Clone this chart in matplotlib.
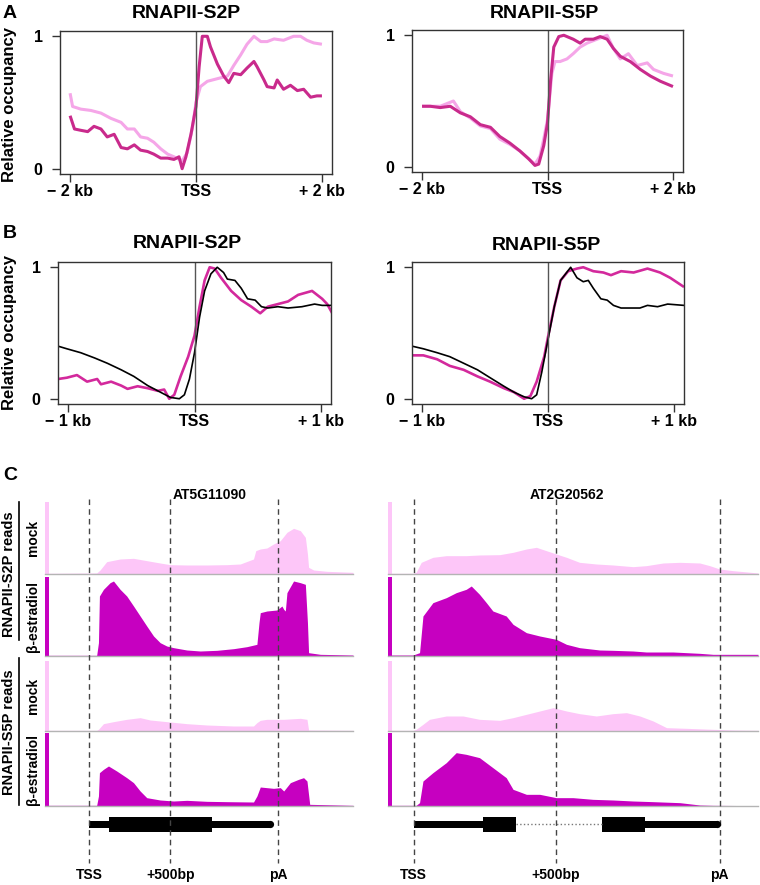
import numpy as np
import matplotlib
matplotlib.use("Agg")
import matplotlib.pyplot as plt
from matplotlib.patches import Rectangle

plt.rcParams['font.family'] = ['Liberation Sans', 'DejaVu Sans']

W, H = 760, 885

# ---------------- panel A: RNAPII-S2P (kb from TSS, relative occupancy) ----------------
a_s2p_mock_x = [-2.0, -1.96, -1.83, -1.67, -1.51, -1.35, -1.19, -1.09, -0.98, -0.88, -0.77, -0.67,
                -0.56, -0.45, -0.35, -0.22, -0.14, -0.06, 0.0, 0.07, 0.18, 0.34, 0.50, 0.60, 0.71,
                0.81, 0.92, 1.03, 1.13, 1.24, 1.39, 1.55, 1.66, 1.76, 1.87, 2.0]
a_s2p_mock_y = [0.57, 0.47, 0.45, 0.44, 0.42, 0.38, 0.35, 0.30, 0.30, 0.24, 0.23, 0.20,
                0.15, 0.11, 0.09, 0.06, 0.12, 0.30, 0.50, 0.62, 0.66, 0.68, 0.70, 0.78, 0.86,
                0.94, 1.0, 0.96, 0.96, 0.98, 0.97, 1.0, 1.0, 0.97, 0.95, 0.94]
a_s2p_estr_x = [-2.0, -1.93, -1.83, -1.72, -1.62, -1.51, -1.41, -1.30, -1.19, -1.09, -0.98, -0.88,
                -0.77, -0.67, -0.56, -0.45, -0.35, -0.27, -0.22, -0.16, -0.08, 0.0, 0.05, 0.10,
                0.18, 0.23, 0.34, 0.44, 0.52, 0.60, 0.71, 0.81, 0.92, 0.97, 1.08, 1.13, 1.24,
                1.29, 1.39, 1.50, 1.61, 1.71, 1.82, 1.92, 2.0]
a_s2p_estr_y = [0.40, 0.30, 0.29, 0.28, 0.32, 0.30, 0.24, 0.26, 0.16, 0.15, 0.18, 0.14,
                0.13, 0.11, 0.08, 0.08, 0.07, 0.09, 0.0, 0.09, 0.26, 0.47, 0.77, 1.0,
                1.0, 0.92, 0.79, 0.70, 0.65, 0.72, 0.71, 0.76, 0.81, 0.77, 0.67, 0.62, 0.61,
                0.67, 0.60, 0.63, 0.59, 0.60, 0.54, 0.55, 0.55]

# ---------------- panel A: RNAPII-S5P ----------------
a_s5p_mock_x = [-2.0, -1.71, -1.50, -1.39, -1.23, -1.07, -0.91, -0.76, -0.60, -0.44, -0.30, -0.20,
                -0.12, -0.06, 0.0, 0.07, 0.12, 0.20, 0.31, 0.41, 0.52, 0.63, 0.79, 0.95, 1.05,
                1.16, 1.29, 1.43, 1.59, 1.69, 1.85, 2.0]
a_s5p_mock_y = [0.46, 0.46, 0.50, 0.42, 0.37, 0.31, 0.29, 0.21, 0.17, 0.12, 0.06, 0.02,
                0.08, 0.21, 0.36, 0.71, 0.80, 0.80, 0.82, 0.86, 0.91, 0.94, 0.97, 1.0, 0.90,
                0.82, 0.86, 0.77, 0.79, 0.74, 0.71, 0.69]
a_s5p_estr_x = [-2.0, -1.87, -1.71, -1.55, -1.39, -1.23, -1.07, -0.91, -0.76, -0.60, -0.44, -0.30,
                -0.20, -0.14, -0.06, 0.0, 0.05, 0.10, 0.18, 0.26, 0.41, 0.52, 0.60, 0.73, 0.84,
                0.95, 1.05, 1.16, 1.32, 1.48, 1.64, 1.80, 2.0]
a_s5p_estr_y = [0.46, 0.46, 0.45, 0.46, 0.41, 0.38, 0.32, 0.30, 0.23, 0.18, 0.12, 0.06,
                0.01, 0.02, 0.16, 0.33, 0.66, 0.91, 0.99, 1.0, 0.97, 0.94, 0.97, 0.97, 0.99,
                0.97, 0.90, 0.84, 0.80, 0.74, 0.69, 0.65, 0.61]

# ---------------- panel B: nucleosome vs beta-estradiol ----------------
b_s2p_nuc_x = [-1.08, -1.01, -0.90, -0.79, -0.69, -0.58, -0.48, -0.37, -0.26, -0.19, -0.12, -0.08,
               -0.04, 0.0, 0.04, 0.08, 0.13, 0.18, 0.23, 0.26, 0.32, 0.37, 0.42, 0.48, 0.53,
               0.58, 0.66, 0.74, 0.85, 0.95, 1.01, 1.09]
b_s2p_nuc_y = [0.40, 0.38, 0.35, 0.31, 0.27, 0.22, 0.17, 0.10, 0.045, 0.01, 0.0, 0.03,
               0.15, 0.35, 0.62, 0.82, 0.95, 1.0, 0.96, 0.91, 0.90, 0.84, 0.76, 0.75, 0.70,
               0.69, 0.70, 0.69, 0.70, 0.72, 0.71, 0.71]
b_s2p_estr_x = [-1.08, -1.01, -0.93, -0.85, -0.77, -0.74, -0.66, -0.58, -0.53, -0.45, -0.37, -0.29,
                -0.24, -0.20, -0.16, -0.11, -0.05, 0.0, 0.04, 0.08, 0.12, 0.16, 0.21, 0.29,
                0.37, 0.45, 0.52, 0.58, 0.66, 0.74, 0.82, 0.93, 1.01, 1.05, 1.09]
b_s2p_estr_y = [0.15, 0.16, 0.18, 0.13, 0.15, 0.11, 0.13, 0.10, 0.075, 0.095, 0.08, 0.06,
                0.07, 0.0, 0.03, 0.17, 0.32, 0.48, 0.70, 0.90, 1.0, 0.99, 0.92, 0.82,
                0.75, 0.70, 0.65, 0.70, 0.72, 0.74, 0.79, 0.82, 0.76, 0.72, 0.65]

b_s5p_nuc_x = [-1.08, -0.99, -0.88, -0.78, -0.67, -0.56, -0.46, -0.35, -0.27, -0.19, -0.13, -0.09,
               -0.05, 0.0, 0.05, 0.10, 0.18, 0.23, 0.28, 0.32, 0.36, 0.42, 0.47, 0.52, 0.58,
               0.66, 0.73, 0.79, 0.87, 0.95, 1.08]
b_s5p_nuc_y = [0.40, 0.38, 0.35, 0.32, 0.27, 0.22, 0.16, 0.095, 0.05, 0.015, 0.0, 0.03,
               0.20, 0.45, 0.70, 0.90, 1.0, 0.92, 0.89, 0.90, 0.84, 0.76, 0.75, 0.71, 0.69,
               0.69, 0.69, 0.71, 0.70, 0.72, 0.71]
b_s5p_estr_x = [-1.08, -0.99, -0.88, -0.78, -0.67, -0.56, -0.46, -0.35, -0.27, -0.19, -0.14, -0.09,
                -0.03, 0.0, 0.05, 0.10, 0.16, 0.23, 0.28, 0.36, 0.44, 0.50, 0.58, 0.68, 0.79,
                0.89, 0.97, 1.08]
b_s5p_estr_y = [0.33, 0.33, 0.30, 0.25, 0.22, 0.17, 0.13, 0.08, 0.05, 0.0, 0.02, 0.13,
                0.32, 0.47, 0.70, 0.90, 0.97, 0.99, 1.0, 0.97, 0.96, 0.94, 0.97, 0.96, 0.99,
                0.96, 0.92, 0.85]

# ---------------- panel C: read coverage (bp from TSS, arbitrary read units) ----------------
g1_name, g1_range, g1_pa = "AT5G11090", (-275, 1632), 1167
g1_s2p_mock_x = [-275, 45, 66, 107, 190, 273, 355, 438, 500, 603, 727, 851, 934, 1016, 1030, 1058,
                 1099, 1140, 1182, 1223, 1264, 1306, 1337, 1350, 1357, 1388, 1471, 1632]
g1_s2p_mock_y = [2, 3, 12, 37, 45, 47, 40, 33, 28, 27, 27, 28, 30, 45, 70, 75,
                 78, 90, 100, 125, 137, 130, 110, 60, 20, 12, 8, 5]
g1_s2p_estr_x = [-275, 45, 56, 62, 87, 128, 149, 190, 231, 273, 314, 355, 397, 438, 479, 521, 603,
                 686, 789, 893, 975, 1037, 1050, 1058, 1099, 1161, 1192, 1203, 1213, 1223, 1264,
                 1306, 1337, 1350, 1357, 1430, 1632]
g1_s2p_estr_y = [2, 2, 40, 180, 200, 220, 225, 200, 180, 150, 120, 90, 60, 40, 30, 25, 18,
                 15, 17, 22, 28, 35, 100, 130, 135, 138, 150, 140, 135, 190, 225,
                 220, 215, 100, 10, 5, 3]
g1_s5p_mock_x = [-275, 45, 56, 87, 149, 231, 314, 376, 479, 603, 727, 893, 1016, 1037, 1058, 1099,
                 1203, 1306, 1347, 1357, 1632]
g1_s5p_mock_y = [2, 2, 5, 22, 28, 35, 40, 33, 28, 22, 18, 15, 15, 25, 32, 35,
                 35, 38, 35, 3, 2]
g1_s5p_estr_x = [-275, 45, 56, 62, 87, 118, 169, 231, 273, 314, 355, 438, 521, 603, 727, 851, 1016,
                 1037, 1058, 1099, 1140, 1182, 1203, 1244, 1295, 1326, 1347, 1364, 1632]
g1_s5p_estr_y = [2, 2, 30, 100, 110, 120, 105, 85, 70, 45, 25, 18, 15, 17, 14, 13, 12,
                 30, 57, 55, 53, 55, 45, 70, 80, 85, 75, 5, 2]
g1_utr = [(0, 1120)]
g1_cds = [(124, 762)]
g1_intron = []

g2_name, g2_range, g2_pa = "AT2G20562", (-90, 1212), 1077
g2_s2p_mock_x = [-90, -2, 9, 27, 68, 115, 185, 232, 303, 350, 397, 432, 467, 502, 538, 584, 643,
                 702, 772, 819, 878, 937, 1007, 1042, 1077, 1124, 1212]
g2_s2p_mock_y = [2, 2, 5, 35, 50, 55, 55, 57, 58, 65, 75, 80, 70, 60, 50, 35, 30,
                 27, 22, 25, 33, 35, 33, 25, 15, 10, 3]
g2_s2p_estr_x = [-90, -2, 21, 33, 68, 115, 150, 185, 203, 232, 256, 279, 326, 350, 397, 444, 502,
                 538, 584, 655, 702, 772, 819, 913, 1007, 1054, 1212]
g2_s2p_estr_y = [3, 3, 10, 120, 160, 175, 190, 200, 210, 185, 160, 135, 120, 95, 70, 60, 50,
                 35, 25, 18, 17, 15, 12, 12, 8, 5, 5]
g2_s5p_mock_x = [-90, -2, 9, 33, 56, 115, 174, 232, 303, 350, 397, 444, 491, 538, 584, 643, 702,
                 749, 796, 843, 890, 960, 1054, 1124, 1212]
g2_s5p_mock_y = [2, 2, 5, 20, 35, 45, 45, 35, 32, 40, 50, 60, 70, 60, 52, 45, 52,
                 55, 45, 30, 10, 8, 5, 3, 2]
g2_s5p_estr_x = [-90, 9, 21, 33, 68, 115, 150, 185, 232, 279, 326, 350, 397, 444, 502, 561, 631,
                 702, 772, 843, 937, 1007, 1054, 1212]
g2_s5p_estr_y = [2, 2, 10, 75, 100, 130, 160, 155, 145, 115, 85, 50, 35, 35, 25, 25, 20,
                 18, 15, 13, 10, 3, 2, 1]
g2_utr = [(0, 244), (813, 1067)]
g2_cds = [(244, 361), (664, 813)]
g2_intron = [(361, 664)]

# ---------------- colours ----------------
MOCK_A = "#f5a6e8"
ESTR_A = "#c92a8c"
ESTR_B = "#d3299c"
MOCK_C = "#fdc6f8"
ESTR_C = "#c600c0"

fig = plt.figure(figsize=(W / 100, H / 100), dpi=100)


def rect(l, t, r, b):
    return [l / W, 1 - b / H, (r - l) / W, (b - t) / H]


# full-figure layer in pixel coords for free text
base = fig.add_axes([0, 0, 1, 1])
base.set_xlim(0, W)
base.set_ylim(H, 0)
base.axis('off')


def txt(x, y, s, **kw):
    kw.setdefault('ha', 'center')
    kw.setdefault('va', 'center')
    kw.setdefault('fontweight', 'bold')
    base.text(x, y, s, **kw)


def profile(box, lines, lim, ticks, labels):
    ax = fig.add_axes(rect(*box))
    for x, y, c, lw in lines:
        ax.plot(x, y, color=c, lw=lw, solid_joinstyle='round', solid_capstyle='butt')
    ax.axvline(0, color="#555555", lw=1)
    ax.set_xlim(*lim)
    ax.set_ylim(-0.04, 1.04)
    ax.set_xticks(ticks, labels)
    ax.set_yticks([0, 1], ["0", "1"])
    ax.tick_params(direction='out', length=5.5, width=1, color='#333333', labelsize=11.5)
    ax.tick_params(axis='x', pad=2)
    ax.tick_params(axis='y', pad=7)
    for lab in ax.get_xticklabels() + ax.get_yticklabels():
        lab.set_fontweight('bold')
    for s in ax.spines.values():
        s.set_color('#333333')
        s.set_linewidth(1)
    return ax


# ---- A ----
profile((60, 31, 332, 174),
        [(a_s2p_mock_x, a_s2p_mock_y, MOCK_A, 2.2), (a_s2p_estr_x, a_s2p_estr_y, ESTR_A, 2.2)],
        (-2.16, 2.16), [-2, 0, 2], ["\u2212 2 kb", "TSS", "+ 2 kb"])
profile((412, 30, 683, 172),
        [(a_s5p_mock_x, a_s5p_mock_y, MOCK_A, 2.2), (a_s5p_estr_x, a_s5p_estr_y, ESTR_A, 2.2)],
        (-2.16, 2.16), [-2, 0, 2], ["\u2212 2 kb", "TSS", "+ 2 kb"])
txt(10, 13, "A", fontsize=14)
txt(186, 13, "RNAPII-S2P", fontsize=14)
txt(544, 13, "RNAPII-S5P", fontsize=14)
txt(10, 104, "Relative occupancy", fontsize=12, rotation=90)
txt(70, 43, "mock", fontsize=10.5, color=MOCK_A, ha='left')
txt(70, 62, "\u03b2-estradiol", fontsize=10.5, color=ESTR_A, ha='left')

# ---- B ----
profile((58, 262, 331, 404),
        [(b_s2p_estr_x, b_s2p_estr_y, ESTR_B, 1.9), (b_s2p_nuc_x, b_s2p_nuc_y, "black", 1.2)],
        (-1.08, 1.08), [-1, 0, 1], ["\u2212 1 kb", "TSS", "+ 1 kb"])
profile((412, 262, 684, 404),
        [(b_s5p_estr_x, b_s5p_estr_y, ESTR_B, 1.9), (b_s5p_nuc_x, b_s5p_nuc_y, "black", 1.2)],
        (-1.08, 1.08), [-1, 0, 1], ["\u2212 1 kb", "TSS", "+ 1 kb"])
txt(10, 233, "B", fontsize=14)
txt(187, 244, "RNAPII-S2P", fontsize=14)
txt(546, 245, "RNAPII-S5P", fontsize=14)
txt(10, 333, "Relative occupancy", fontsize=12, rotation=90)
txt(70, 273, "nucleosome", fontsize=10.5, color="black", ha='left')
txt(70, 291, "\u03b2-estradiol", fontsize=10.5, color=ESTR_B, ha='left')

# ---- C ----
txt(10, 475, "C", fontsize=14)
rows = [(502, 574, 216, MOCK_C), (577, 656, 237, ESTR_C), (661, 731, 210, MOCK_C), (733, 806, 219, ESTR_C)]
row_names = ["mock", "\u03b2-estradiol", "mock", "\u03b2-estradiol"]
genes = [
    (45, 353, g1_name, 210, g1_range, g1_pa, g1_utr, g1_cds, g1_intron,
     [(g1_s2p_mock_x, g1_s2p_mock_y), (g1_s2p_estr_x, g1_s2p_estr_y),
      (g1_s5p_mock_x, g1_s5p_mock_y), (g1_s5p_estr_x, g1_s5p_estr_y)]),
    (388, 758, g2_name, 567, g2_range, g2_pa, g2_utr, g2_cds, g2_intron,
     [(g2_s2p_mock_x, g2_s2p_mock_y), (g2_s2p_estr_x, g2_s2p_estr_y),
      (g2_s5p_mock_x, g2_s5p_mock_y), (g2_s5p_estr_x, g2_s5p_estr_y)]),
]

for l, r, name, name_x, lim, pa, utr, cds, intron, tracks in genes:
    for (top, bot, ymax, col), (x, y) in zip(rows, tracks):
        ax = fig.add_axes(rect(l, top, r, bot))
        ax.fill_between(x, 0, y, color=col, lw=0)
        ax.axhline(0, color='#b4b4b4', lw=1, clip_on=False)
        ax.add_patch(Rectangle((0, 0), 3.5 / (r - l), 1, transform=ax.transAxes, color=col, lw=0))
        ax.set_xlim(*lim)
        ax.set_ylim(0, ymax)
        ax.axis('off')
    ov = fig.add_axes(rect(l, 490, r, 885))
    ov.set_xlim(*lim)
    ov.set_ylim(885, 490)
    ov.axis('off')
    ov.vlines([0, 500, pa], 499, 863, colors='#444444', linestyles=(0, (4, 3)), lw=1)
    for a, b in utr:
        ov.add_patch(Rectangle((a, 820.5), b - a, 7, color='black', lw=0))
    # rounded 3' end of the transcript
    ov.plot([utr[-1][1]], [824], 'o', color='black', ms=5.2, mew=0)
    for a, b in cds:
        ov.add_patch(Rectangle((a, 816.5), b - a, 15, color='black', lw=0))
    for a, b in intron:
        ov.plot([a, b], [824, 824], ls=':', color='#777777', lw=1)
    ov.text(0, 875, "TSS", ha='center', va='center', fontsize=10, fontweight='bold')
    ov.text(500, 875, "+500bp", ha='center', va='center', fontsize=10, fontweight='bold')
    ov.text(pa, 875, "pA", ha='center', va='center', fontsize=10, fontweight='bold')
    txt(name_x, 495, name, fontsize=10)

for (top, bot, ymax, col), nm in zip(rows, row_names):
    txt(33, (top + bot) / 2, nm, fontsize=10, rotation=90)

base.plot([19, 19], [502, 640], color='black', lw=1.2)
base.plot([19, 19], [658, 805], color='black', lw=1.2)
txt(9, 574, "RNAPII-S2P reads", fontsize=10.5, rotation=90)
txt(9, 732, "RNAPII-S5P reads", fontsize=10.5, rotation=90)

fig.savefig("out.png", dpi=100)
